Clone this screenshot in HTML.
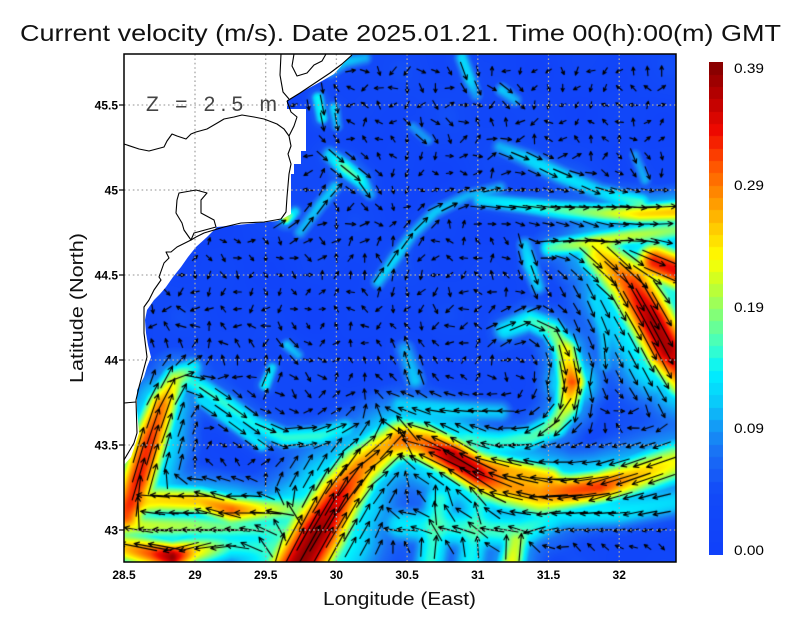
<!DOCTYPE html>
<html><head><meta charset="utf-8">
<style>
html,body{margin:0;padding:0;background:#fff;}
#wrap{position:relative;width:800px;height:618px;overflow:hidden;background:#fff;}
#fld{position:absolute;left:124px;top:54px;}
#cb{position:absolute;left:709px;top:62px;}
svg{position:absolute;left:0;top:0;}
text{font-family:"Liberation Sans",sans-serif;}
</style></head><body>
<div id="wrap">
<canvas id="fld" width="552" height="508"></canvas>
<canvas id="cb" width="14" height="493"></canvas>
<svg width="800" height="618" xmlns="http://www.w3.org/2000/svg">
<polygon fill="#fff" points="120,50 356,50 352,54 343,64 334,74 322,81 311,87 298,94 287,101 287,109 306,109 306,151 301,151 301,164 294,164 294,174 291,174 291,214 284,218 277,221 217,227 207,237 196,247 188,257 181,267 173,277 166,287 160,294 154,300 147,310 145,320 146,333 148,345 151,357 147,367 144,377 137,390 137,410 139,433 135,445 131,457 124,465 120,465"/>
<g stroke="#a6a6a6" stroke-width="1.3" stroke-dasharray="1.6 2.8" fill="none">
<line x1="195" y1="54" x2="195" y2="562"/><line x1="265.7" y1="54" x2="265.7" y2="562"/><line x1="336.4" y1="54" x2="336.4" y2="562"/><line x1="407.1" y1="54" x2="407.1" y2="562"/><line x1="477.8" y1="54" x2="477.8" y2="562"/><line x1="548.5" y1="54" x2="548.5" y2="562"/><line x1="619.2" y1="54" x2="619.2" y2="562"/>
<line x1="124" y1="105" x2="676" y2="105"/><line x1="124" y1="190" x2="676" y2="190"/><line x1="124" y1="275" x2="676" y2="275"/><line x1="124" y1="360" x2="676" y2="360"/><line x1="124" y1="445" x2="676" y2="445"/><line x1="124" y1="530" x2="676" y2="530"/>
</g>
<g stroke="#000" stroke-width="1.1" fill="none" stroke-linejoin="round">
<path d="M281,54 L280,75 L283,92 L289,99"/>
<path d="M294,54 L292,66 L297,76 L307,73 L314,65 L322,61 L326,54"/>
<path d="M287,101 L300,93 L315,83 L330,73 L342,64 L352,55"/>
<path d="M287,101 L291,112 L297,117 L294,126 L289,136"/>
<path d="M124,144 L139,149 L149,151 L164,147 L167,141 L172,134 L177,136 L186,139 L191,134 L196,132 L207,129 L219,122 L224,119 L234,117 L242,115 L254,117 L264,119 L277,124 L284,129 L289,136 L291,146 L288,154 L291,164 L289,174 L287,197 L286,212 L281,219 L264,222 L241,223 L224,227 L214,230 L204,233 L196,237 L191,240 L177,247 L171,252 L166,252 L169,258 L164,263 L159,277 L161,280 L154,290 L149,300 L144,307 L144,333 L147,357 L139,387 L136,400 L137,433 L134,443 L124,460"/>
<path d="M179,193 L196,190 L207,193 L201,200 L201,213 L214,220 L216,227 L194,233 L191,240 L184,230 L182,223 L176,213 L177,200 Z"/>
<path d="M124,403 L136,402"/>
</g>
<rect x="124" y="54" width="552" height="508" fill="none" stroke="#000" stroke-width="1.5"/>
<g stroke="#000" stroke-width="1.2">
<line x1="119" y1="105" x2="124" y2="105"/><line x1="119" y1="190" x2="124" y2="190"/><line x1="119" y1="275" x2="124" y2="275"/><line x1="119" y1="360" x2="124" y2="360"/><line x1="119" y1="445" x2="124" y2="445"/><line x1="119" y1="530" x2="124" y2="530"/>
</g>
<text x="20" y="41" font-size="23" textLength="761" lengthAdjust="spacingAndGlyphs" fill="#111">Current velocity (m/s). Date 2025.01.21. Time 00(h):00(m) GMT</text>
<text x="146" y="111" font-size="21" textLength="131" lengthAdjust="spacing" fill="#444">Z = 2.5 m</text>
<g font-size="12" font-weight="bold" text-anchor="end" fill="#000">
<text x="118" y="109.5">45.5</text><text x="118" y="194.5">45</text><text x="118" y="279.5">44.5</text><text x="118" y="364.5">44</text><text x="118" y="449.5">43.5</text><text x="118" y="534.5">43</text>
</g>
<g font-size="12" font-weight="bold" text-anchor="middle" fill="#000">
<text x="124" y="579">28.5</text><text x="195" y="579">29</text><text x="265.7" y="579">29.5</text><text x="336.4" y="579">30</text><text x="407.1" y="579">30.5</text><text x="477.8" y="579">31</text><text x="548.5" y="579">31.5</text><text x="619.2" y="579">32</text>
</g>
<text x="323" y="605" font-size="18.5" textLength="153" lengthAdjust="spacingAndGlyphs" fill="#111">Longitude (East)</text>
<text transform="translate(83,383) rotate(-90)" x="0" y="0" font-size="18.5" textLength="150" lengthAdjust="spacingAndGlyphs" fill="#111">Latitude (North)</text>
<g font-size="14" fill="#000">
<text x="734" y="73" textLength="30" lengthAdjust="spacingAndGlyphs">0.39</text>
<text x="734" y="190" textLength="30" lengthAdjust="spacingAndGlyphs">0.29</text>
<text x="734" y="312" textLength="30" lengthAdjust="spacingAndGlyphs">0.19</text>
<text x="734" y="433" textLength="30" lengthAdjust="spacingAndGlyphs">0.09</text>
<text x="734" y="555" textLength="30" lengthAdjust="spacingAndGlyphs">0.00</text>
</g>
</svg>
</div>
<script>
(function(){
const CM=[[0,16,64,250],[0.05,18,74,248],[0.08,26,110,245],[0.10,20,150,245],[0.12,10,200,250],[0.145,0,240,255],[0.165,60,255,200],[0.19,130,255,120],[0.215,200,255,40],[0.235,255,255,0],[0.26,255,200,0],[0.285,255,140,0],[0.31,255,80,0],[0.335,240,10,0],[0.36,190,0,0],[0.39,128,0,0]];
function cmap(v){
  if(v<=0)return [CM[0][1],CM[0][2],CM[0][3]];
  const L=CM[CM.length-1]; if(v>=0.39)return [L[1],L[2],L[3]];
  for(let i=1;i<CM.length;i++){ if(v<=CM[i][0]){const a=CM[i-1],b=CM[i],t=(v-a[0])/(b[0]-a[0]);
    return [a[1]+(b[1]-a[1])*t,a[2]+(b[2]-a[2])*t,a[3]+(b[3]-a[3])*t];}}
  return [L[1],L[2],L[3]];
}
const F=[
{s:1,p:[[294,575,0.38,24],[318,532,0.38,24],[338,498,0.34,22],[360,468,0.29,20],[385,448,0.27,18],[405,440,0.26,16]]},
{s:-1,p:[[400,438,0.26,18],[425,444,0.30,18],[452,457,0.37,16],[478,474,0.35,16],[505,485,0.28,20],[540,493,0.28,20],[572,491,0.31,15],[600,487,0.32,14],[630,478,0.27,16],[676,462,0.23,18]]},
{s:-1,p:[[470,462,0.25,12],[510,470,0.26,12],[550,478,0.25,12]]},
{s:-1,p:[[400,525,0.14,16],[460,528,0.16,18],[520,532,0.17,16],[560,515,0.13,14],[620,512,0.14,14],[676,502,0.13,14]]},
{s:1,p:[[512,562,0.23,12],[516,542,0.21,12]]},
{s:1,p:[[430,565,0.16,15],[440,500,0.16,15]]},
{s:1,p:[[470,565,0.15,15],[480,500,0.15,15]]},
{s:-1,p:[[124,505,0.23,13],[160,500,0.25,13],[200,501,0.26,12],[232,510,0.30,12],[265,510,0.23,12],[300,508,0.17,12]]},
{s:-1,p:[[124,548,0.26,14],[150,553,0.31,13],[172,557,0.38,12],[195,551,0.25,13],[230,546,0.16,14],[290,548,0.14,14]]},
{s:-1,p:[[124,526,0.22,12],[190,526,0.20,12],[280,530,0.15,12]]},
{s:1,p:[[126,515,0.31,15],[138,480,0.33,16],[150,440,0.32,16],[162,405,0.29,14],[175,380,0.22,12],[192,368,0.15,10]]},
{s:1,p:[[180,375,0.15,10],[205,390,0.16,10],[230,407,0.16,10],[255,425,0.15,10],[285,438,0.16,10],[320,436,0.16,10],[345,428,0.14,10]]},
{s:1,p:[[200,400,0.13,7],[235,425,0.14,7],[262,445,0.14,7]]},
{s:1,p:[[265,385,0.15,6],[272,368,0.13,6]]},
{s:1,p:[[287,345,0.12,6],[298,355,0.11,6]]},
{s:1,p:[[600,255,0.25,18],[632,285,0.32,22],[652,320,0.37,20],[668,350,0.37,20],[685,378,0.30,18]]},
{s:1,p:[[655,262,0.33,16],[680,272,0.34,16]]},
{s:1,p:[[566,350,0.21,12],[572,382,0.31,12],[568,405,0.23,12],[555,425,0.18,12]]},
{s:1,p:[[505,330,0.14,11],[530,320,0.16,11],[552,330,0.18,11],[566,350,0.21,11]]},
{s:-1,p:[[470,440,0.15,12],[500,442,0.16,12],[530,438,0.17,12],[555,425,0.18,12]]},
{s:1,p:[[595,300,0.12,9],[605,335,0.12,9],[605,365,0.11,9]]},
{s:-1,p:[[400,405,0.12,11],[450,410,0.13,11],[500,412,0.12,11]]},
{s:-1,p:[[405,350,0.11,10],[415,380,0.12,10]]},
{s:1,p:[[480,200,0.13,8],[520,205,0.15,8],[560,210,0.17,9],[600,213,0.20,9],[640,214,0.25,9],[676,212,0.26,10]]},
{s:1,p:[[550,248,0.17,9],[590,243,0.22,9],[630,236,0.21,9],[676,230,0.19,10]]},
{s:1,p:[[500,147,0.11,8],[530,160,0.13,9],[560,175,0.14,9],[600,192,0.13,9],[640,203,0.17,9]]},
{s:1,p:[[330,155,0.13,8],[345,168,0.18,8],[360,180,0.16,8],[370,194,0.11,7]]},
{s:1,p:[[318,98,0.15,6],[322,118,0.15,6]]},
{s:1,p:[[334,108,0.13,6],[337,126,0.11,6]]},
{s:1,p:[[330,72,0.11,7],[345,62,0.12,7],[365,58,0.11,7]]},
{s:1,p:[[378,282,0.12,7],[395,258,0.13,7],[412,235,0.12,7],[435,212,0.12,7],[467,196,0.11,7],[500,188,0.11,7]]},
{s:1,p:[[286,219,0.22,5],[295,212,0.13,6]]},
{s:1,p:[[300,232,0.11,7],[320,205,0.12,7],[335,187,0.12,7]]},
{s:1,p:[[462,58,0.13,7],[470,80,0.13,7],[476,95,0.10,7]]},
{s:1,p:[[502,90,0.12,7],[515,100,0.11,7]]},
{s:1,p:[[413,127,0.10,6],[428,140,0.10,6]]},
{s:1,p:[[635,155,0.10,6],[645,180,0.11,6]]},
{s:1,p:[[525,245,0.12,8],[530,265,0.14,8],[538,287,0.12,8]]}
];
const HF=0.5,HK=2.2;
const segs=[];
F.forEach((f,fi)=>{const p=f.p;for(let i=0;i<p.length-1;i++){const a=p[i],b=p[i+1];const dx=b[0]-a[0],dy=b[1]-a[1];const l2=dx*dx+dy*dy||1e-6;const l=Math.sqrt(l2);const r=Math.max(a[3],b[3])*3.2*HK;
segs.push({fi,ax:a[0],ay:a[1],dx,dy,l2,ux:dx/l*f.s,uy:dy/l*f.s,a0:a[2],a1:b[2],s0:a[3],s1:b[3],minx:Math.min(a[0],b[0])-r,maxx:Math.max(a[0],b[0])+r,miny:Math.min(a[1],b[1])-r,maxy:Math.max(a[1],b[1])+r});}});
const nF=F.length,fv=new Float64Array(nF),fx=new Float64Array(nF),fy=new Float64Array(nF);
function base(x,y){return 0.035+0.01*Math.sin(x*0.071+1.3)*Math.sin(y*0.063+0.4)+0.01*Math.sin(x*0.021-y*0.033+2.0);}
function bgA(x,y){return 2.6*Math.sin(x*0.017+y*0.011+0.5)+1.9*Math.cos(y*0.023-x*0.009)+0.8*Math.sin(x*0.31+y*0.27);}
function field(x,y){
  fv.fill(0);
  for(let k=0;k<segs.length;k++){const s=segs[k];
    if(x<s.minx||x>s.maxx||y<s.miny||y>s.maxy)continue;
    let t=((x-s.ax)*s.dx+(y-s.ay)*s.dy)/s.l2; if(t<0)t=0;else if(t>1)t=1;
    const px=s.ax+t*s.dx-x,py=s.ay+t*s.dy-y;
    const d2=px*px+py*py;
    const sg=s.s0+(s.s1-s.s0)*t,am=s.a0+(s.a1-s.a0)*t;
    const q2=d2/(sg*sg);
    const v1=am*Math.exp(-0.5*q2);
    const v2=am*HF*Math.exp(-0.5*q2/(HK*HK));
    const v=v1>v2?v1:v2;
    if(v>fv[s.fi]){fv[s.fi]=v;fx[s.fi]=s.ux;fy[s.fi]=s.uy;}
  }
  const b=base(x,y);let S=Math.pow(b,6);const ba=bgA(x,y);const bw=b*b*b*b;let wx=Math.cos(ba)*bw,wy=Math.sin(ba)*bw;
  for(let i=0;i<nF;i++){const v=fv[i];if(v>0.001){S+=Math.pow(v,6);const w=v*v*v*v;wx+=fx[i]*w;wy+=fy[i]*w;}}
  return [Math.pow(S,1/6),wx,wy];
}
const cv=document.getElementById('fld');const ctx=cv.getContext('2d');
const W=552,H=508;const img=ctx.createImageData(W,H);const D=img.data;
for(let j=0;j<H;j++){for(let i=0;i<W;i++){const r=field(i+124.5,j+54.5);const c=cmap(r[0]);const o=(j*W+i)*4;D[o]=c[0];D[o+1]=c[1];D[o+2]=c[2];D[o+3]=255;}}
ctx.putImageData(img,0,0);
const land=[[120,50],[356,50],[352,54],[343,64],[334,74],[322,81],[311,87],[298,94],[287,101],[287,109],[306,109],[306,151],[301,151],[301,164],[294,164],[294,174],[291,174],[291,214],[284,218],[277,221],[217,227],[207,237],[196,247],[188,257],[181,267],[173,277],[166,287],[160,294],[154,300],[147,310],[145,320],[146,333],[148,345],[151,357],[147,367],[144,377],[137,390],[137,410],[139,433],[135,445],[131,457],[124,465],[120,465]];
function inLand(x,y){let c=false;for(let i=0,j=land.length-1;i<land.length;j=i++){const xi=land[i][0],yi=land[i][1],xj=land[j][0],yj=land[j][1];
 if(((yi>y)!=(yj>y))&&(x<(xj-xi)*(y-yi)/(yj-yi)+xi))c=!c;}return c;}
ctx.strokeStyle='#000';ctx.lineWidth=1.15;ctx.lineCap='round';ctx.lineJoin='round';
ctx.beginPath();
for(let jr=-7;jr<=21;jr++){const y=190+jr*17;if(y<58||y>560)continue;
 for(let kc=-5;kc<=34;kc++){const x=195+kc*14.142;if(x<126||x>675)continue;
  if(inLand(x,y)||inLand(x-3,y)||inLand(x,y-3))continue;
  const r=field(x,y);let v=r[0];let ux=r[1],uy=r[2];const n=Math.hypot(ux,uy)||1;ux/=n;uy/=n;
  let L=4+120*v;if(L>50)L=50;
  const cx=x-124,cy=y-54;
  const tx=cx-ux*L/2,ty=cy-uy*L/2,hx=cx+ux*L/2,hy=cy+uy*L/2;
  ctx.moveTo(tx,ty);ctx.lineTo(hx,hy);
  const h=Math.min(5.5,2.6+L*0.12),a=0.45,ca=Math.cos(a),sa=Math.sin(a);
  const bx=-ux,by=-uy;
  ctx.moveTo(hx,hy);ctx.lineTo(hx+h*(bx*ca-by*sa),hy+h*(bx*sa+by*ca));
  ctx.moveTo(hx,hy);ctx.lineTo(hx+h*(bx*ca+by*sa),hy+h*(-bx*sa+by*ca));
 }}
ctx.stroke();
const cb=document.getElementById('cb');const c2=cb.getContext('2d');
for(let r=0;r<493;r++){const v=0.39*(1-r/493);const vq=(Math.min(39,Math.floor(v/0.39*40))+0.5)/40*0.39;const c=cmap(vq);
 c2.fillStyle='rgb('+Math.round(c[0])+','+Math.round(c[1])+','+Math.round(c[2])+')';c2.fillRect(0,r,14,1);}
})();
</script>
</body></html>
